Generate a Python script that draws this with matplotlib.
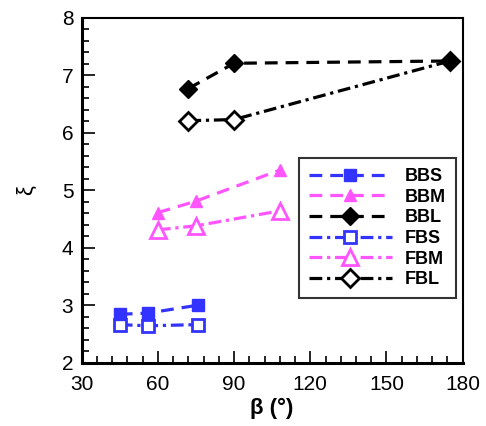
import matplotlib
matplotlib.use("Agg")
import matplotlib.pyplot as plt
from matplotlib.ticker import MultipleLocator

plt.rcParams['font.family'] = ['Liberation Sans', 'DejaVu Sans']

# Angle beta (deg) and coefficient xi for each configuration
bbs_x = [45, 56, 76]
bbs_y = [2.84, 2.86, 3.00]
fbs_x = [45, 56, 76]
fbs_y = [2.66, 2.64, 2.66]
bbm_x = [60, 75, 108]
bbm_y = [4.61, 4.81, 5.35]
fbm_x = [60, 75, 108]
fbm_y = [4.31, 4.38, 4.64]
bbl_x = [72, 90, 175]
bbl_y = [6.77, 7.21, 7.25]
fbl_x = [72, 90, 175]
fbl_y = [6.21, 6.23, 7.25]

blue = '#3333ff'
pink = '#ff55ff'
black = '#000000'

fig = plt.figure(figsize=(4.86, 4.26), dpi=100)
ax = fig.add_axes([0.168, 0.149, 0.784, 0.809])

dash = (0, (4, 2.5))
dashdot = (0, (4, 1.5, 1, 1.5))
lw = 2.3

ax.plot(bbs_x, bbs_y, linestyle=dash, color=blue, lw=lw, marker='s', ms=8,
        mfc=blue, mec=blue, label='BBS', zorder=4)
ax.plot(bbm_x, bbm_y, linestyle=dash, color=pink, lw=lw, marker='^', ms=8,
        mfc=pink, mec=pink, label='BBM', zorder=4)
ax.plot(bbl_x, bbl_y, linestyle=dash, color=black, lw=lw, marker='D', ms=9,
        mfc=black, mec=black, label='BBL', zorder=4)
ax.plot(fbs_x, fbs_y, linestyle=dashdot, color=blue, lw=lw, marker='s', ms=9,
        mfc='white', mec=blue, mew=2, label='FBS', zorder=3)
ax.plot(fbm_x, fbm_y, linestyle=dashdot, color=pink, lw=lw, marker='^', ms=11,
        mfc='white', mec=pink, mew=2, label='FBM', zorder=3)
ax.plot(fbl_x, fbl_y, linestyle=dashdot, color=black, lw=lw, marker='D', ms=9,
        mfc='white', mec=black, mew=2, label='FBL', zorder=3)

ax.set_xlim(30, 180)
ax.set_ylim(2, 8)
ax.xaxis.set_major_locator(MultipleLocator(30))
ax.xaxis.set_minor_locator(MultipleLocator(6))
ax.yaxis.set_major_locator(MultipleLocator(1))
ax.yaxis.set_minor_locator(MultipleLocator(0.2))
ax.tick_params(which='both', direction='in', top=False, right=False,
               labelsize=15, width=1.2)
ax.tick_params(which='major', length=9)
ax.tick_params(which='minor', length=5)
ax.tick_params(axis='x', pad=9)
ax.tick_params(axis='y', pad=6)
for s in ax.spines.values():
    s.set_linewidth(1.5)
ax.spines['bottom'].set_linewidth(2.2)
ax.spines['left'].set_linewidth(2.2)

ax.set_xlabel('β (°)', fontsize=16, fontweight='bold', labelpad=3)
ax.set_ylabel('ξ', fontsize=16, labelpad=18)

leg = ax.legend(loc='upper left', bbox_to_anchor=(0.57, 0.593), frameon=True,
                fancybox=False, edgecolor='black',
                prop={'weight': 'bold', 'size': 13}, handlelength=4.6,
                borderpad=0.55, labelspacing=0.2, handletextpad=0.7,
                borderaxespad=0)
leg.get_frame().set_linewidth(1.5)

fig.savefig('out.png', dpi=100)
